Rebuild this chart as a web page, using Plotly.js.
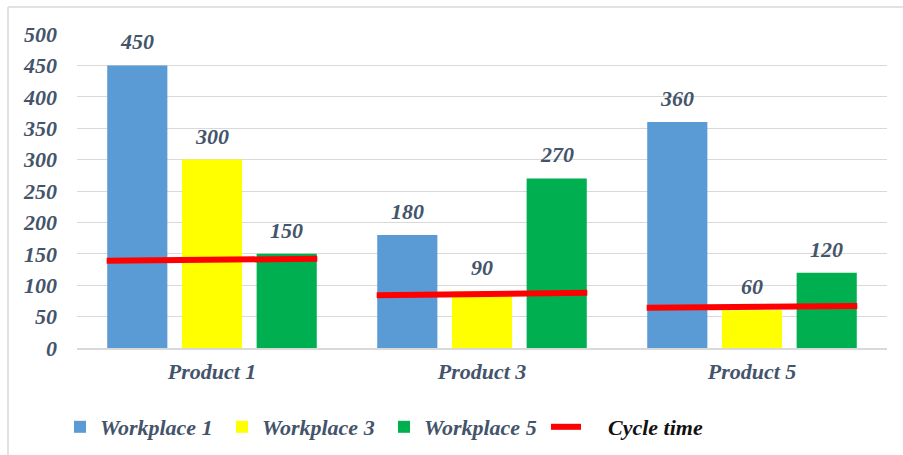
<!DOCTYPE html>
<html>
<head>
<meta charset="utf-8">
<script src="https://cdn.plot.ly/plotly-3.0.1.min.js"></script>
<style>html,body{margin:0;padding:0;background:#fff;}#chart{width:903px;height:455px;}</style>
</head>
<body>
<div id="chart"></div>
<script>
// ---- data ----
const categories = ["Product 1", "Product 3", "Product 5"];
const workplace1 = [450, 180, 360];
const workplace3 = [300, 90, 60];
const workplace5 = [150, 270, 120];
const cycleStart = [139, 84, 64];
const cycleEnd = [142, 88, 67];
const seriesNames = ["Workplace 1", "Workplace 3", "Workplace 5"];
const cycleName = "Cycle time";

// ---- styles ----
const colors = ["#5B9BD5", "#FFFF00", "#00B050"];
const textColor = "#44546A";
const fontFamily = "'Liberation Serif', 'Times New Roman', serif";
const fontSize = 22;
const bargap = 0.17, bargroupgap = 0.195;
const lineHalf = 0.39;
const mkFont = (c) => ({family: fontFamily, size: fontSize, color: c || textColor, weight: "bold", style: "italic"});

const xs = categories.map((c, i) => i);
const series = [workplace1, workplace3, workplace5];

const traces = series.map((vals, j) => ({
  type: "bar",
  name: seriesNames[j],
  x: xs,
  y: vals,
  marker: {color: colors[j]},
  hoverinfo: "skip"
}));

const lx = [], ly = [];
xs.forEach((x, i) => {
  lx.push(x - lineHalf, x + lineHalf, null);
  ly.push(cycleStart[i], cycleEnd[i], null);
});
traces.push({
  type: "scatter",
  mode: "lines",
  name: "&nbsp;&nbsp;&nbsp;&nbsp;<span style='color:#111'>" + cycleName + "</span>",
  x: lx, y: ly,
  connectgaps: false,
  line: {color: "#FF0000", width: 6},
  hoverinfo: "skip"
});

// value labels positioned at bar slots
const slot = (1 - bargap) / series.length;
const annotations = [];
series.forEach((vals, j) => {
  const off = (j - (series.length - 1) / 2) * slot;
  vals.forEach((v, i) => {
    annotations.push({
      x: xs[i] + off, y: v, xref: "x", yref: "y",
      text: String(v), showarrow: false,
      yanchor: "bottom", yshift: 9,
      font: mkFont()
    });
  });
});

const plotL = 77, plotR = 887, plotT = 34, plotB = 348, W = 903, H = 455;
const px = p => (p - plotL) / (plotR - plotL);
const py = p => (plotB - p) / (plotB - plotT);

const layout = {
  width: W, height: H,
  margin: {l: plotL, r: W - plotR, t: plotT, b: H - plotB, autoexpand: false},
  paper_bgcolor: "#fff", plot_bgcolor: "#fff",
  barmode: "group", bargap: bargap, bargroupgap: bargroupgap,
  font: mkFont(),
  xaxis: {
    range: [-0.5, 2.5],
    tickvals: xs, ticktext: categories,
    showgrid: false, zeroline: false,
    showline: true, linecolor: "#D9D9D9", linewidth: 2,
    ticks: "", ticklabelstandoff: 3,
    tickfont: mkFont(),
    fixedrange: true
  },
  yaxis: {
    range: [0, 500], dtick: 50,
    showgrid: true, gridcolor: "#D9D9D9", gridwidth: 1,
    zeroline: false, showline: false, ticks: "",
    ticklabelstandoff: 19,
    tickfont: mkFont(),
    fixedrange: true
  },
  showlegend: true,
  legend: {
    orientation: "h", x: px(60), xanchor: "left", y: py(427), yanchor: "middle",
    font: mkFont(),
    entrywidth: 117, entrywidthmode: "pixels",
    traceorder: "normal", bgcolor: "rgba(0,0,0,0)"
  },
  annotations: annotations,
  shapes: [
    {type: "line", xref: "paper", yref: "paper", x0: px(8), x1: px(8), y0: py(7), y1: py(455), line: {color: "#D9D9D9", width: 1.5}},
    {type: "line", xref: "paper", yref: "paper", x0: px(8), x1: px(903), y0: py(7), y1: py(7), line: {color: "#D9D9D9", width: 1.5}}
  ]
};

Plotly.newPlot("chart", traces, layout, {displayModeBar: false, staticPlot: true});
</script>
</body>
</html>
